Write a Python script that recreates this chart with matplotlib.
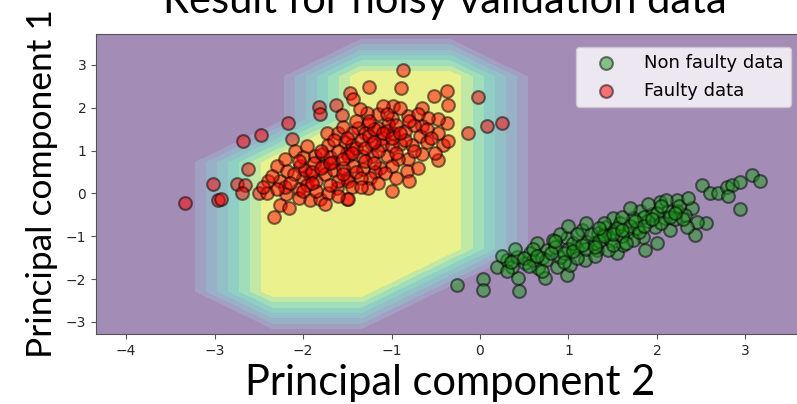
import numpy as np
import matplotlib

matplotlib.use("Agg")
import matplotlib.pyplot as plt
from matplotlib.colors import ListedColormap

# faulty (red) and non-faulty (green) samples, projected on the two principal components
faulty_x = [-3.34, -2.96, -3.02, -2.93, -2.68, -2.47, -2.17, -2.12, -1.82, -1.81, -1.63, -1.56,
            -2.62, -2.75, -2.66, -2.69, -2.50, -2.41, -2.40, -2.26, -2.29, -2.18, -2.09, -2.03,
            -2.19, -2.26, -2.16, -2.33, -1.92, -1.92, -1.81, -1.86, -1.79, -1.72, -1.66, -1.73,
            -1.60, -1.53, -1.50, -1.62, -1.72, -1.50, -1.50, -1.47, -1.44, -2.00, -1.77,
            -0.87, -1.25, -0.89, -0.52, -0.37, -0.36, -0.02, 0.08, 0.25, -0.14, -0.42, -0.36,
            -0.47, -0.37, -0.47, -0.66, -0.59, -0.81, -0.99, -0.98, -1.15, -1.28, -1.36, -0.66,
            -0.68, -0.47, -0.66, -0.81, -0.77, -0.90, -0.98, -1.10, -1.04, -1.15, -1.27, -1.38,
            -1.30, -1.45, -1.22, -1.11, -1.05, -0.93, -0.82, -0.99, -1.13, -1.22, -1.33, -1.45,
            -1.49, -1.44, -1.32, -1.19, -1.07, -1.24, -1.49, -1.45, -1.27, -1.49, -0.51,
            -2.20, -2.05, -1.95, -1.85, -1.75, -1.65, -1.55, -2.10, -1.98, -1.88, -1.70, -1.60,
            -1.40, -1.35, -1.25, -1.20, -1.05, -0.95, -0.85, -0.75, -0.85, -0.60, -1.15, -1.00,
            -1.30, -1.40, -1.60, -1.70, -1.85, -2.30, -2.45, -2.00, -1.95, -1.55, -1.40, -0.90,
            -0.70, -1.10, -1.35, -0.95, -0.70, -2.05, -1.60, -1.75, -1.00, -0.80,
            -2.35, -2.15, -2.00, -1.90, -1.80, -1.70, -1.55, -1.45, -1.30, -1.20, -1.10, -1.00,
            -0.90, -0.80, -0.60, -0.55, -1.25, -1.50, -1.65, -1.80, -2.05, -2.20, -1.35, -1.15,
            -1.20, -1.55, -1.90, -0.95, -0.75, -1.05]
faulty_y = [-0.23, -0.16, 0.23, -0.12, 1.23, 1.37, 1.65, 1.28, 2.02, 1.86, 2.07, 1.84,
            0.56, 0.23, 0.19, 0.02, 0.00, 0.02, 0.30, 0.30, 0.65, 0.53, 1.00, 0.65,
            -0.02, -0.28, -0.35, -0.56, 0.42, -0.16, -0.12, 0.88, 0.93, 1.12, 0.74, 1.40,
            1.42, 1.19, 0.95, 0.12, 0.02, 0.35, -0.12, 2.35, 2.21, 0.35, 0.65,
            2.88, 2.49, 2.47, 2.28, 2.40, 2.07, 2.26, 1.58, 1.65, 1.40, 1.12, 1.23,
            0.77, 1.65, 1.74, 2.00, 1.77, 1.81, 1.77, 2.05, 1.86, 1.88, 1.98, 1.58,
            1.35, 1.42, 0.93, 0.81, 1.12, 1.16, 1.42, 1.30, 1.63, 1.53, 1.63, 1.53,
            1.40, 1.42, 1.16, 1.12, 0.88, 0.81, 0.53, 0.65, 0.60, 0.88, 0.88, 1.12,
            0.88, 0.65, 0.58, 0.49, 0.47, 0.35, 0.30, 0.14, 0.12, -0.12, 0.95,
            0.15, 0.10, 0.20, 0.30, 0.45, 0.55, 0.60, 0.45, 0.55, 0.70, 0.85, 1.00,
            1.05, 1.25, 1.35, 1.50, 1.45, 1.60, 1.45, 1.60, 1.25, 1.20, 1.00, 1.10,
            0.75, 0.50, 0.30, 0.20, 0.05, 0.10, 0.15, 0.85, 1.10, 1.55, 1.70, 2.00,
            1.85, 2.05, 0.35, 0.35, 0.60, -0.10, -0.05, -0.25, 0.05, 0.30,
            0.40, 0.25, 0.05, 0.50, 0.60, 0.70, 0.80, 0.95, 1.05, 1.20, 1.40, 1.30,
            1.40, 1.70, 1.50, 1.30, 1.70, 1.30, 1.25, 1.00, 0.75, 0.80, 0.15, 0.25,
            0.70, 0.45, 0.25, 0.95, 1.00, 1.85]

normal_x = [-0.26, 0.03, 0.03, 0.43, 0.44, 0.19, 0.31, 0.36, 0.51, 0.42, 0.56, 0.64,
            0.66, 0.73, 0.76, 0.82, 0.87, 0.98, 0.90, 1.02, 0.98, 1.10, 1.15, 1.21,
            1.19, 1.32, 1.33, 1.43, 1.47, 1.50, 1.55, 0.60,
            2.51, 2.60, 2.69, 2.79, 2.85, 2.94, 3.07, 3.16, 2.94, 2.80, 2.40, 2.56,
            2.43, 2.45, 2.34, 2.23, 2.15, 2.23, 2.09, 2.03, 1.95, 1.98, 2.00, 1.86,
            1.84, 1.81, 1.73, 1.77, 1.66, 1.62, 1.58, 1.50, 1.45, 1.73, 2.12, 2.32,
            0.70, 1.00, 1.30, 1.60, 1.90, 2.20, 1.40,
            0.30, 0.50, 0.60, 0.75, 0.85, 0.95, 1.05, 1.10, 1.20, 1.25, 1.35, 1.40,
            1.50, 1.55, 1.60, 1.70, 1.70, 1.80, 1.85, 1.90, 2.00, 2.05, 2.10, 2.15,
            2.25, 2.30, 2.35, 1.20, 0.90, 1.00, 0.40, 0.25, 1.30, 0.70,
            0.55, 0.65, 0.80, 0.95, 1.05, 1.15, 1.30, 1.40, 1.50, 1.60, 1.75, 1.85,
            1.95, 2.05, 2.20, 1.10, 0.85, 1.65, 1.35, 0.35]
normal_y = [-2.14, -2.00, -2.26, -1.98, -2.28, -1.72, -1.56, -1.72, -1.63, -1.49, -1.40, -1.16,
            -1.74, -1.98, -1.33, -1.09, -1.72, -1.91, -1.49, -1.67, -1.05, -1.28, -0.86, -1.14,
            -1.56, -1.33, -0.93, -0.79, -1.09, -0.58, -1.40, -1.56,
            0.19, 0.00, 0.00, 0.14, 0.19, 0.26, 0.42, 0.28, -0.37, -0.05, -0.33, -0.70,
            -0.98, -0.67, -0.79, -0.16, -0.86, -0.40, -0.58, -0.21, -0.47, -0.79, -1.16, -1.33,
            -1.02, -0.40, -0.58, -0.81, -0.93, -1.21, -0.70, -0.91, -1.33, -1.09, -0.40, -0.51,
            -1.50, -1.30, -1.15, -1.00, -0.65, -0.60, -0.95,
            -1.80, -1.50, -1.30, -1.55, -1.25, -1.40, -1.15, -1.50, -1.30, -0.95, -1.10, -0.70,
            -1.20, -0.80, -0.55, -0.75, -0.35, -0.90, -0.55, -0.25, -0.45, -0.70, -0.15, -0.55,
            -0.30, -0.60, -0.10, -0.70, -0.95, -0.75, -1.30, -1.45, -1.45, -1.80,
            -1.70, -1.45, -1.40, -1.60, -1.35, -1.20, -1.25, -1.00, -0.95, -0.85, -0.65, -0.75,
            -0.60, -0.30, -0.45, -0.95, -1.10, -1.15, -0.80, -1.60]

# classifier output on the coarse mesh (rows: bottom -> top, cols: left -> right)
mesh_step = 1.0
mesh_pred = [
    [0, 0, 0, 0, 0, 0, 0, 0, 0],
    [0, 0, 1, 1, 0, 0, 0, 0, 0],
    [0, 0, 1, 1, 1, 0, 0, 0, 0],
    [0, 0, 1, 1, 1, 0, 0, 0, 0],
    [0, 0, 1, 1, 1, 0, 0, 0, 0],
    [0, 0, 0, 1, 1, 0, 0, 0, 0],
    [0, 0, 0, 1, 1, 0, 0, 0, 0],
    [0, 0, 0, 0, 0, 0, 0, 0, 0],
]

label_font = "Lato"

all_x = np.array(faulty_x + normal_x)
all_y = np.array(faulty_y + normal_y)
x_min, x_max = all_x.min() - 1, all_x.max() + 1
y_min, y_max = all_y.min() - 1, all_y.max() + 1
xx, yy = np.meshgrid(np.arange(x_min, x_max, mesh_step), np.arange(y_min, y_max, mesh_step))
zz = np.array(mesh_pred, dtype=float)

# viridis at half opacity over white, baked in so the bands have no seams
base = plt.get_cmap("viridis")(np.linspace(0, 1, 256))
soft = base.copy()
soft[:, :3] = 0.5 * base[:, :3] + 0.5
soft_viridis = ListedColormap(soft)

fig = plt.figure(figsize=(7.97, 4.04), dpi=100)
ax = fig.add_axes([0.1205, 0.1733, 0.888, 0.7426])

ax.contourf(xx, yy, zz, levels=np.linspace(0, 1, 9), cmap=soft_viridis, antialiased=False)
ax.scatter(normal_x, normal_y, c="#1f9a1f", alpha=0.5, edgecolors="k", linewidths=1.5, s=85,
           label="Non faulty data", zorder=3)
ax.scatter(faulty_x, faulty_y, c="red", alpha=0.5, edgecolors="k", linewidths=1.5, s=85,
           label="Faulty data", zorder=3)
ax.set_xlim(xx.min(), xx.max())
ax.set_ylim(yy.min(), yy.max())
ax.set_xticks([-4, -3, -2, -1, 0, 1, 2, 3])
ax.set_yticks([-3, -2, -1, 0, 1, 2, 3])
ax.tick_params(labelsize=10, labelcolor="#262626", color="#555555")
for spine in ax.spines.values():
    spine.set_edgecolor("#555555")

ax.legend(loc="upper right", fontsize=13, handlelength=2.5, handletextpad=0.9,
          labelspacing=0.55, borderaxespad=0.7)

ax.set_xlabel("Principal component 2", fontsize=30, family=label_font, va="baseline")
ax.xaxis.set_label_coords(0.5, -0.203)
ax.set_ylabel("Principal component 1", fontsize=25.5, family=label_font, va="baseline")
ax.yaxis.set_label_coords(-0.062, 0.5)
fig.text(0.558, 0.968, "Result for noisy validation data", fontsize=30, family=label_font,
         ha="center", va="baseline")

fig.savefig("out.png", dpi=100)
